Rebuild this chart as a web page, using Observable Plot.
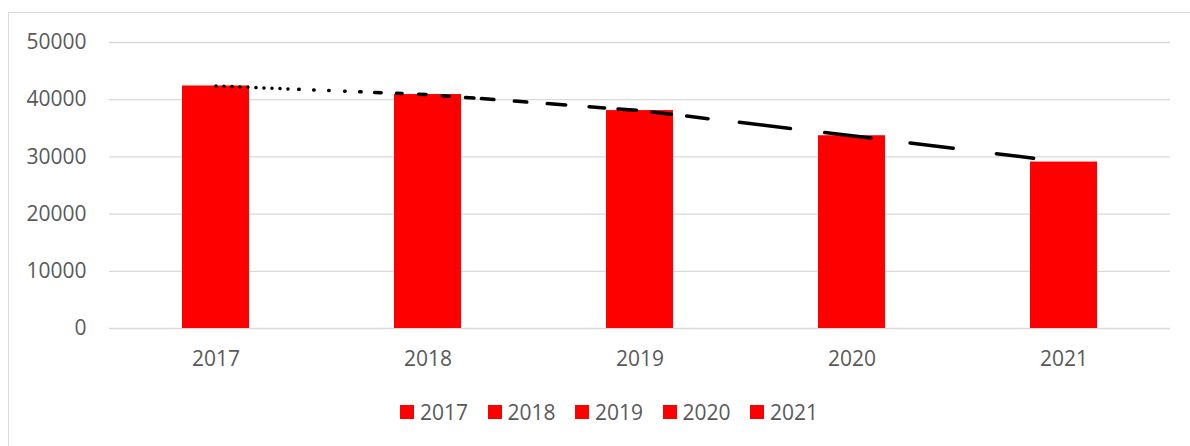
<!DOCTYPE html>
<html><head><meta charset="utf-8">
<script src="https://cdn.jsdelivr.net/npm/d3@7"></script>
<script src="https://cdn.jsdelivr.net/npm/@observablehq/plot@0.6"></script>
<style>
html,body{margin:0;padding:0;background:#fff;width:1190px;height:446px;overflow:hidden;position:relative;font-family:"Open Sans",sans-serif;}
#frame{position:absolute;left:8px;top:12px;width:1300px;height:600px;border:1px solid #d9d9d9;box-sizing:border-box;}
#chart{position:absolute;left:0;top:0;}
#legend{position:absolute;left:400px;top:400px;display:flex;height:24px;line-height:24px;font-size:21px;color:#595959;}
#legend .item{display:flex;align-items:center;width:87.5px;}
#legend .sw{width:14px;height:14px;margin-right:6px;}
</style></head><body>
<div id="frame"></div>
<div id="chart"></div>
<div id="legend"></div>
<script>
// ---- data ----
const years = ["2017", "2018", "2019", "2020", "2021"];
const values = [42400, 40900, 38100, 33700, 29100];
const yTicks = [0, 10000, 20000, 30000, 40000, 50000];

// ---- style ----
const barColor = "#ff0000";
const gridColor = "#d9d9d9";
const textColor = "#595959";
const lineWidth = 3.5;
// dash pattern of the trend line (start/end offsets along the line, px)
const dashPieces = [
  [0,0],[8,8],[16,16],[24,24],[32,32],[40,40],[48,48],[56,56],[64,64],[72,72],
  [81,85],[96,100],[111,115],[127,131],[142,147],[157,167],[179,188],[201,212],
  [225,235],[248,260],[264,280],[297,313],[330,352],[372,391],[401,423],
  [435,458],[470,495],[523,578],[609,659],[695,742],[782,823]
];
function buildDash(pieces, w) {
  const segs = pieces.map(([a, b]) => a === b ? [a, 0.01] : [a + w / 2, Math.max(0.01, b - a - w)]);
  const arr = [];
  for (let i = 0; i < segs.length; i++) {
    const [s, L] = segs[i];
    const next = i + 1 < segs.length ? segs[i + 1][0] : s + L + 2000;
    arr.push(L.toFixed(2), (next - s - L).toFixed(2));
  }
  return arr.join(",");
}
const dash = buildDash(dashPieces, lineWidth);

const data = years.map((year, i) => ({year, value: values[i]}));

const chart = Plot.plot({
  width: 1190,
  height: 380,
  marginLeft: 109,
  marginRight: 20,
  marginTop: 42,
  marginBottom: 52,
  style: {fontFamily: '"Open Sans", sans-serif', fontSize: "21px", color: textColor, background: "transparent"},
  x: {domain: years, paddingInner: 0.684, paddingOuter: 0.342},
  y: {domain: [0, 50000]},
  marks: [
    Plot.ruleY(yTicks, {stroke: gridColor, strokeWidth: 1.3}),
    Plot.barY(data, {x: "year", y: "value", fill: barColor}),
    Plot.lineY(data, {x: "year", y: "value", stroke: "#000", strokeWidth: lineWidth,
      strokeDasharray: dash, strokeLinecap: "round", strokeLinejoin: "round"}),
    Plot.axisX({tickSize: 0, tickPadding: 23, label: null, fill: textColor}),
    Plot.axisY({ticks: yTicks, tickSize: 0, tickPadding: 23, label: null, fill: textColor,
      tickFormat: d => String(d)})
  ]
});
document.getElementById("chart").appendChild(chart);

const legend = document.getElementById("legend");
years.forEach(y => {
  const it = document.createElement("div");
  it.className = "item";
  const sw = document.createElement("span");
  sw.className = "sw";
  sw.style.background = barColor;
  const t = document.createElement("span");
  t.textContent = y;
  it.appendChild(sw); it.appendChild(t);
  legend.appendChild(it);
});
</script>
</body></html>
